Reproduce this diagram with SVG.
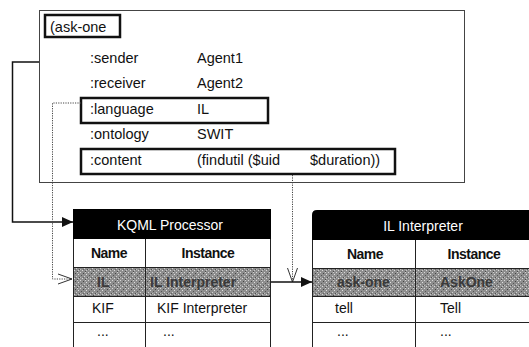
<svg xmlns="http://www.w3.org/2000/svg" width="529" height="347" viewBox="0 0 529 347">
<defs>
<style>
.t{font-family:"Liberation Sans",Arial,sans-serif;font-size:14.5px;fill:#111}
.th{font-family:"Liberation Sans",Arial,sans-serif;font-size:14px;fill:#fff;text-anchor:middle}
.tb{font-family:"Liberation Sans",Arial,sans-serif;font-size:14px;font-weight:bold;fill:#111;text-anchor:middle;letter-spacing:-0.5px}
.tc{font-family:"Liberation Sans",Arial,sans-serif;font-size:14px;fill:#111}
.tg{font-family:"Liberation Sans",Arial,sans-serif;font-size:14px;font-weight:bold;fill:#3a3a3a}
.box{fill:none;stroke:#111;stroke-width:2.5}
.grid{stroke:#222;stroke-width:1;fill:none}
.solid{fill:none;stroke:#111;stroke-width:1.5}
.dot{fill:none;stroke:#444;stroke-width:1;stroke-dasharray:1.2 1.2}
</style>
<pattern id="noise" width="8" height="8" patternUnits="userSpaceOnUse">
<rect width="8" height="8" fill="#8e8e8e"/>
<rect x="0" y="0" width="1" height="1" fill="#d8d8d8"/>
<rect x="3" y="1" width="1" height="1" fill="#444"/>
<rect x="5" y="0" width="1" height="1" fill="#cfcfcf"/>
<rect x="1" y="3" width="1" height="1" fill="#555"/>
<rect x="6" y="2" width="1" height="1" fill="#e0e0e0"/>
<rect x="4" y="4" width="1" height="1" fill="#d0d0d0"/>
<rect x="7" y="5" width="1" height="1" fill="#505050"/>
<rect x="2" y="6" width="1" height="1" fill="#dadada"/>
<rect x="5" y="7" width="1" height="1" fill="#4a4a4a"/>
<rect x="0" y="5" width="1" height="1" fill="#bdbdbd"/>
<rect x="3" y="5" width="1" height="1" fill="#666"/>
<rect x="6" y="6" width="1" height="1" fill="#c8c8c8"/>
</pattern>
<marker id="fill" markerWidth="11" markerHeight="10" refX="11" refY="5" orient="auto" markerUnits="userSpaceOnUse">
<path d="M0,0 L11,5 L0,10 Z" fill="#111"/>
</marker>
<marker id="open" markerWidth="16" markerHeight="12" refX="15" refY="6" orient="auto" markerUnits="userSpaceOnUse">
<path d="M1,1 L15,6 L1,11" fill="none" stroke="#333" stroke-width="1"/>
</marker>
</defs>

<g id="message">
<rect x="39.5" y="10.5" width="425" height="172" fill="#fff" stroke="#444" stroke-width="1"/>
<rect x="45" y="15" width="75" height="22" class="box"/>
<text x="50" y="32" class="t">(ask-one</text>
<text x="90" y="63" class="t">:sender</text>
<text x="197" y="63" class="t">Agent1</text>
<text x="90" y="88" class="t">:receiver</text>
<text x="197" y="88" class="t">Agent2</text>
<rect x="81" y="98" width="187" height="25" class="box"/>
<text x="90" y="114" class="t">:language</text>
<text x="197" y="114" class="t">IL</text>
<text x="90" y="139" class="t">:ontology</text>
<text x="197" y="139" class="t">SWIT</text>
<rect x="81" y="149" width="314" height="25" class="box"/>
<text x="90" y="165" class="t">:content</text>
<text x="197" y="165" class="t">(findutil ($uid</text>
<text x="310" y="165" class="t">$duration))</text>
</g>

<g id="kqml-processor">
<rect x="73" y="209" width="198" height="30" fill="#000"/>
<text x="170" y="230" class="th">KQML Processor</text>
<rect x="73" y="267" width="198" height="30" fill="url(#noise)"/>
<path class="grid" d="M73.5,239 V347 M145.5,239 V347 M270.5,239 V347 M73,267.5 H271 M73,296.5 H271 M73,322.5 H271"/>
<text x="109" y="258" class="tb">Name</text>
<text x="208" y="258" class="tb">Instance</text>
<text x="97" y="287" class="tg">IL</text>
<text x="150" y="287" class="tg">IL Interpreter</text>
<text x="92" y="313" class="tc">KIF</text>
<text x="157" y="313" class="tc">KIF Interpreter</text>
<text x="97" y="336" class="tc">...</text>
<text x="163" y="336" class="tc">...</text>
</g>

<g id="il-interpreter">
<path d="M317,210 H535 V240 H312 V215 Q312,210 317,210 Z" fill="#000"/>
<text x="423" y="231" class="th">IL Interpreter</text>
<rect x="312" y="268" width="223" height="29" fill="url(#noise)"/>
<path class="grid" d="M312.5,240 V347 M415.5,240 V347 M312,268.5 H535 M312,296.5 H535 M312,322.5 H535"/>
<text x="365" y="259" class="tb">Name</text>
<text x="474" y="259" class="tb">Instance</text>
<text x="337" y="287" class="tg">ask-one</text>
<text x="440" y="287" class="tg">AskOne</text>
<text x="335" y="313" class="tc">tell</text>
<text x="440" y="313" class="tc">Tell</text>
<text x="337" y="336" class="tc">...</text>
<text x="440" y="336" class="tc">...</text>
</g>

<g id="connectors">
<path class="solid" d="M39,62 H12.5 V222 H73" marker-end="url(#fill)"/>
<path class="dot" d="M81,103 H52.5 V279 H72" marker-end="url(#open)"/>
<path class="dot" d="M292.5,175 V282" marker-end="url(#open)"/>
<path class="solid" d="M271,282 H312" marker-end="url(#fill)"/>
</g>
</svg>
